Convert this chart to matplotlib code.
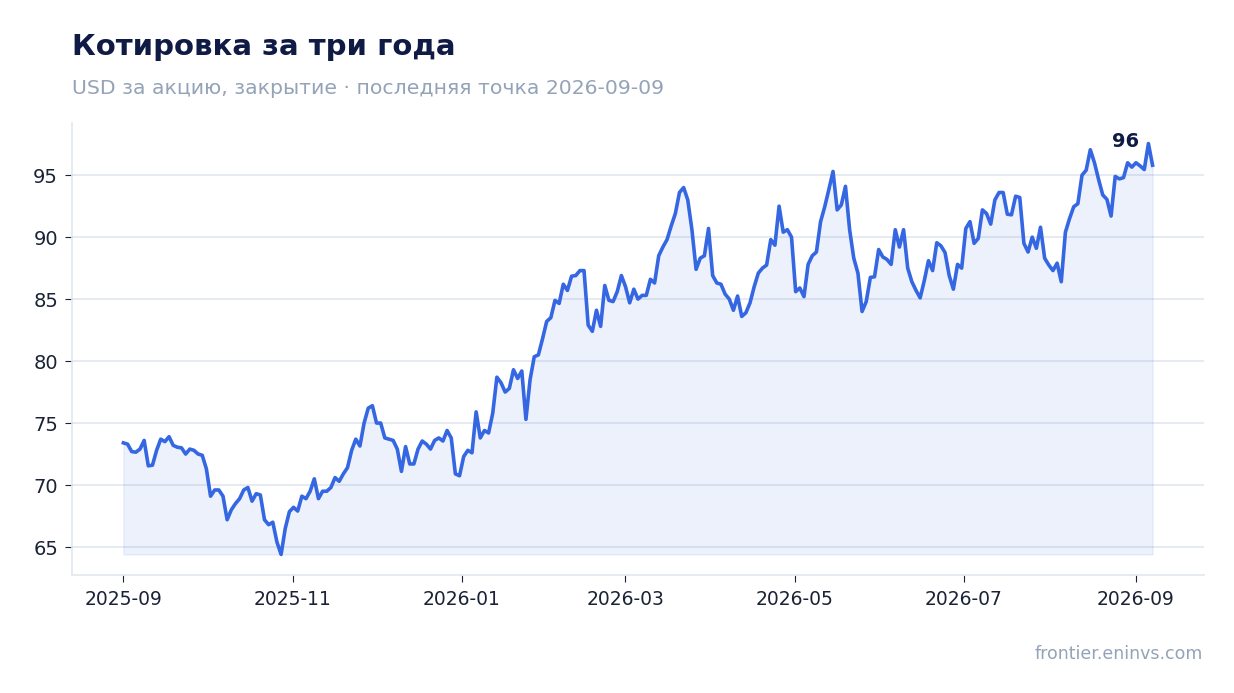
import matplotlib
matplotlib.use("Agg")
import matplotlib.pyplot as plt
import matplotlib.dates as mdates
import pandas as pd

# значения закрытия
close = [
    73.4, 73.3, 72.7, 72.65, 72.9, 73.6, 71.55, 71.6, 72.8, 73.7,
    73.5, 73.9, 73.2, 73.05, 73.0, 72.5, 72.9, 72.8, 72.5, 72.4,
    71.3, 69.1, 69.6, 69.6, 69.1, 67.2, 68.0, 68.5, 68.9, 69.6,
    69.8, 68.7, 69.3, 69.2, 67.2, 66.8, 67.0, 65.4, 64.4,
    66.5, 67.85, 68.2, 67.9, 69.1, 68.9, 69.5, 70.5, 68.9, 69.5,
    69.5, 69.8, 70.6, 70.3, 70.9, 71.4, 72.8, 73.7, 73.15, 75.0,
    76.2, 76.4, 75.0, 75.0, 73.8, 73.7, 73.6, 72.9, 71.1, 73.1,
    71.7, 71.7, 72.9, 73.55, 73.3, 72.9, 73.6, 73.8, 73.55, 74.4,
    73.8, 70.9, 70.75, 72.3, 72.8, 72.6,
    75.9, 73.8, 74.4, 74.2, 75.8, 78.7, 78.25, 77.5, 77.8, 79.3,
    78.6, 79.2, 75.3, 78.5, 80.35, 80.5, 81.8, 83.2, 83.5, 84.9,
    84.65, 86.2, 85.7, 86.85, 86.9, 87.3, 87.3, 82.9, 82.4, 84.1,
    82.8, 86.1, 84.9, 84.8, 85.6, 86.9, 86.0, 84.7, 85.8, 85.0,
    85.3, 85.3, 86.6, 86.3,
    88.5, 89.2, 89.8, 90.9, 91.9, 93.6, 94.0, 93.0, 90.6, 87.4,
    88.3, 88.5, 90.7, 86.9, 86.3, 86.2, 85.4, 85.0, 84.1, 85.25,
    83.6, 83.9, 84.7, 86.0, 87.1, 87.5, 87.75, 89.8, 89.35, 92.5,
    90.4, 90.6, 90.0, 85.6, 85.9, 85.2, 87.8, 88.5, 88.8,
    91.25, 92.45, 93.85, 95.3, 92.2, 92.6, 94.1, 90.6, 88.3, 87.1,
    84.0, 84.8, 86.75, 86.8, 89.0, 88.4, 88.2, 87.8, 90.6, 89.2,
    90.6, 87.5, 86.4, 85.7, 85.1, 86.5, 88.1, 87.3, 89.55, 89.3,
    88.75, 86.9, 85.8, 87.8, 87.5, 90.7, 91.25, 89.5, 89.9, 92.2,
    91.9, 91.05,
    93.0, 93.6, 93.6, 91.85, 91.8, 93.3, 93.2, 89.5, 88.8, 90.0,
    89.1, 90.8, 88.3, 87.75, 87.3, 87.9, 86.4, 90.4, 91.5, 92.45,
    92.7, 95.0, 95.4, 97.05, 96.0, 94.65, 93.4, 93.05, 91.7, 94.9,
    94.7, 94.8, 96.0, 95.65, 96.0, 95.75, 95.45, 97.55, 95.8,
]
start_date = "2025-09-01"
end_date = "2026-09-07"

title = "Котировка за три года"
subtitle = "USD за акцию, закрытие · последняя точка 2026-09-09"
source = "frontier.eninvs.com"

dates = pd.date_range(start_date, end_date, periods=len(close))

line_color = "#3567e3"
navy = "#0f1b45"
grey = "#94a3b8"
grid_c = "#e2e8f0"

fig = plt.figure(figsize=(12.34, 6.93), dpi=100)
ax = fig.add_axes([0.0583, 0.1703, 0.9174, 0.6522])

ax.fill_between(dates, close, min(close), color=line_color, alpha=0.09, linewidth=1)
ax.plot(dates, close, color=line_color, linewidth=2.6)

ax.annotate(f"{close[-1]:.0f}", (dates[-1], close[-1]), xytext=(-10, 10),
            textcoords="offset points", ha="right", va="bottom",
            fontsize=14, fontweight="bold", color=navy)

ax.set_yticks([65, 70, 75, 80, 85, 90, 95])
ax.xaxis.set_major_locator(mdates.MonthLocator(bymonth=[1, 3, 5, 7, 9, 11]))
ax.xaxis.set_major_formatter(mdates.DateFormatter("%Y-%m"))

ax.grid(axis="y", color=grid_c, linewidth=1.2)
ax.set_axisbelow(True)
for s in ["top", "right"]:
    ax.spines[s].set_visible(False)
for s in ["left", "bottom"]:
    ax.spines[s].set_color(grid_c)
    ax.spines[s].set_linewidth(1.2)
ax.tick_params(axis="x", labelsize=13.5, colors="#1a2236", length=5, pad=6)
ax.tick_params(axis="y", labelsize=14, colors="#1a2236", length=5, pad=5)

fig.text(0.0583, 0.9206, title, fontsize=21, fontweight="bold", color=navy, va="baseline")
fig.text(0.0583, 0.864, subtitle, fontsize=14.7, color=grey, va="baseline")
fig.text(0.975, 0.049, source, fontsize=12.5, color=grey, ha="right", va="baseline")

fig.savefig("out.png", dpi=100)
